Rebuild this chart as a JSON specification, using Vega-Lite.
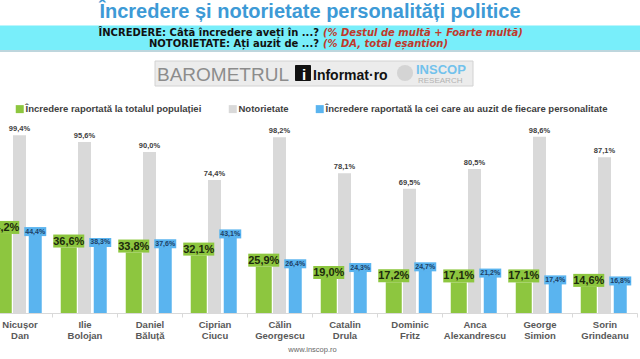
{
  "$schema": "https://vega.github.io/schema/vega-lite/v6.json",
  "width": 640,
  "height": 313,
  "autosize": {"type": "none"},
  "padding": {"left": 0, "right": 0, "top": 0, "bottom": 46},
  "background": "white",
  "config": {"view": {"stroke": null}, "font": "Liberation Sans"},
  "layer": [
    {
      "data": {"values": [{}]},
      "mark": {"type": "rect", "color": "#78eefa"},
      "encoding": {"x": {"value": 0}, "x2": {"value": 640}, "y": {"value": 25.5}, "y2": {"value": 50}}
    },
    {
      "data": {"values": [{}]},
      "mark": {"type": "rule", "color": "#a9c9d2", "strokeWidth": 1.5},
      "encoding": {"x": {"value": 0}, "x2": {"value": 640}, "y": {"value": 51}}
    },
    {
      "data": {"values": [{"t": "Încredere și notorietate personalități politice"}]},
      "mark": {"type": "text", "align": "center", "baseline": "alphabetic", "fontSize": 20, "fontWeight": "bold", "color": "#3d9ad6", "font": "Liberation Sans"},
      "encoding": {"x": {"value": 310}, "y": {"value": 17.5}, "text": {"field": "t"}}
    },
    {
      "data": {"values": [{"t": "ÎNCREDERE: Câtă încredere aveți în ...?"}]},
      "mark": {"type": "text", "align": "right", "baseline": "alphabetic", "fontSize": 10, "fontWeight": "bold", "color": "#111111", "font": "DejaVu Sans"},
      "encoding": {"x": {"value": 319}, "y": {"value": 36}, "text": {"field": "t"}}
    },
    {
      "data": {"values": [{"t": "(% Destul de multă + Foarte multă)"}]},
      "mark": {"type": "text", "align": "left", "baseline": "alphabetic", "fontSize": 10, "fontWeight": "bold", "fontStyle": "italic", "color": "#c0392b", "font": "DejaVu Sans"},
      "encoding": {"x": {"value": 323}, "y": {"value": 36}, "text": {"field": "t"}}
    },
    {
      "data": {"values": [{"t": "NOTORIETATE: Ați auzit de ...?"}]},
      "mark": {"type": "text", "align": "right", "baseline": "alphabetic", "fontSize": 10, "fontWeight": "bold", "color": "#111111", "font": "DejaVu Sans"},
      "encoding": {"x": {"value": 319}, "y": {"value": 47}, "text": {"field": "t"}}
    },
    {
      "data": {"values": [{"t": "(% DA, total eșantion)"}]},
      "mark": {"type": "text", "align": "left", "baseline": "alphabetic", "fontSize": 10, "fontWeight": "bold", "fontStyle": "italic", "color": "#c0392b", "font": "DejaVu Sans"},
      "encoding": {"x": {"value": 323}, "y": {"value": 47}, "text": {"field": "t"}}
    },
    {
      "data": {"values": [{}]},
      "mark": {"type": "rect", "color": "#ececec", "stroke": "#d2d2d2", "strokeWidth": 1},
      "encoding": {"x": {"value": 155}, "x2": {"value": 473}, "y": {"value": 61}, "y2": {"value": 86}}
    },
    {
      "data": {"values": [{"t": "BAROMETRUL"}]},
      "mark": {"type": "text", "align": "left", "baseline": "alphabetic", "fontSize": 19, "fontWeight": "normal", "color": "#8c8c8c", "font": "Liberation Sans"},
      "encoding": {"x": {"value": 157}, "y": {"value": 81}, "text": {"field": "t"}}
    },
    {
      "data": {"values": [{}]},
      "mark": {"type": "rect", "color": "#111111", "cornerRadius": 1},
      "encoding": {"x": {"value": 295}, "x2": {"value": 311}, "y": {"value": 65}, "y2": {"value": 81}}
    },
    {
      "data": {"values": [{"t": "i"}]},
      "mark": {"type": "text", "align": "center", "baseline": "alphabetic", "fontSize": 15, "fontWeight": "bold", "color": "white", "font": "Liberation Sans"},
      "encoding": {"x": {"value": 304}, "y": {"value": 80}, "text": {"field": "t"}}
    },
    {
      "data": {"values": [{"t": "Informat·ro"}]},
      "mark": {"type": "text", "align": "left", "baseline": "alphabetic", "fontSize": 14, "fontWeight": "bold", "color": "#111111", "font": "Liberation Sans"},
      "encoding": {"x": {"value": 313}, "y": {"value": 80}, "text": {"field": "t"}}
    },
    {
      "data": {"values": [{}]},
      "mark": {"type": "point", "shape": "circle", "filled": true, "opacity": 1, "size": 260, "color": "#d4d4d4", "strokeWidth": 0},
      "encoding": {"x": {"value": 405}, "y": {"value": 73}}
    },
    {
      "data": {"values": [{"t": "INSCOP"}]},
      "mark": {"type": "text", "align": "left", "baseline": "alphabetic", "fontSize": 13, "fontWeight": "bold", "color": "#72c2ec", "font": "Liberation Sans"},
      "encoding": {"x": {"value": 416}, "y": {"value": 74}, "text": {"field": "t"}}
    },
    {
      "data": {"values": [{"t": "RESEARCH"}]},
      "mark": {"type": "text", "align": "left", "baseline": "alphabetic", "fontSize": 8, "fontWeight": "normal", "color": "#b3b3b3", "font": "Liberation Sans"},
      "encoding": {"x": {"value": 418}, "y": {"value": 83}, "text": {"field": "t"}}
    },
    {
      "data": {"values": [
        {"name": "Nicușor Dan", "s": "a", "v": 44.2}, {"name": "Nicușor Dan", "s": "b", "v": 99.4}, {"name": "Nicușor Dan", "s": "c", "v": 44.4},
        {"name": "Ilie Bolojan", "s": "a", "v": 36.6}, {"name": "Ilie Bolojan", "s": "b", "v": 95.6}, {"name": "Ilie Bolojan", "s": "c", "v": 38.3},
        {"name": "Daniel Băluță", "s": "a", "v": 33.8}, {"name": "Daniel Băluță", "s": "b", "v": 90.0}, {"name": "Daniel Băluță", "s": "c", "v": 37.6},
        {"name": "Ciprian Ciucu", "s": "a", "v": 32.1}, {"name": "Ciprian Ciucu", "s": "b", "v": 74.4}, {"name": "Ciprian Ciucu", "s": "c", "v": 43.1},
        {"name": "Călin Georgescu", "s": "a", "v": 25.9}, {"name": "Călin Georgescu", "s": "b", "v": 98.2}, {"name": "Călin Georgescu", "s": "c", "v": 26.4},
        {"name": "Catalin Drula", "s": "a", "v": 19.0}, {"name": "Catalin Drula", "s": "b", "v": 78.1}, {"name": "Catalin Drula", "s": "c", "v": 24.3},
        {"name": "Dominic Fritz", "s": "a", "v": 17.2}, {"name": "Dominic Fritz", "s": "b", "v": 69.5}, {"name": "Dominic Fritz", "s": "c", "v": 24.7},
        {"name": "Anca Alexandrescu", "s": "a", "v": 17.1}, {"name": "Anca Alexandrescu", "s": "b", "v": 80.5}, {"name": "Anca Alexandrescu", "s": "c", "v": 21.2},
        {"name": "George Simion", "s": "a", "v": 17.1}, {"name": "George Simion", "s": "b", "v": 98.6}, {"name": "George Simion", "s": "c", "v": 17.4},
        {"name": "Sorin Grindeanu", "s": "a", "v": 14.6}, {"name": "Sorin Grindeanu", "s": "b", "v": 87.1}, {"name": "Sorin Grindeanu", "s": "c", "v": 16.8}
      ]},
      "transform": [{"calculate": "replace(format(datum.v, '.1f'), '.', ',') + '%'", "as": "lbl"}],
      "encoding": {
        "x": {
          "field": "name", "type": "nominal", "title": "www.inscop.ro",
          "scale": {"domain": ["Nicușor Dan", "Ilie Bolojan", "Daniel Băluță", "Ciprian Ciucu", "Călin Georgescu", "Catalin Drula", "Dominic Fritz", "Anca Alexandrescu", "George Simion", "Sorin Grindeanu"], "range": [-13, 637], "paddingInner": 0, "paddingOuter": 0},
          "axis": {"domainColor": "#d9d9d9", "domainWidth": 1, "tickColor": "#d9d9d9", "tickSize": 4, "tickBand": "extent", "labelFontSize": 9.5, "labelFontWeight": "bold", "labelColor": "#595959", "labelFont": "Liberation Sans", "labelPadding": 2, "labelAngle": 0, "labelExpr": "split(datum.label, ' ')", "labelLineHeight": 11, "labelOverlap": false, "labelBound": false, "titleFontSize": 7.5, "titleFontWeight": "normal", "titleColor": "#666666", "titleFont": "Liberation Sans", "titlePadding": 6}
        },
        "xOffset": {"field": "s", "type": "nominal", "scale": {"domain": ["a", "b", "c"], "paddingInner": 0, "paddingOuter": 0.5635}},
        "y": {"field": "v", "type": "quantitative", "scale": {"domain": [0, 175], "nice": false, "zero": true}, "axis": null}
      },
      "layer": [
        {
          "transform": [{"filter": "datum.s == 'a'"}],
          "mark": {"type": "bar", "width": 16},
          "encoding": {
            "color": {"field": "s", "type": "nominal",
              "scale": {"domain": ["a", "b", "c"], "range": ["#8dc63f", "#d9d9d9", "#5ab4ef"]},
              "legend": {"orient": "none", "legendX": 15, "legendY": 104, "direction": "horizontal", "title": null, "symbolType": "square", "symbolSize": 64, "symbolStrokeWidth": 0, "labelFontSize": 9.5, "labelFontWeight": "bold", "labelColor": "#404040", "labelFont": "Liberation Sans", "labelLimit": 0, "columnPadding": 26, "labelOffset": 1,
                "labelExpr": "datum.label == 'a' ? 'Încredere raportată la totalul populației' : datum.label == 'b' ? 'Notorietate' : 'Încredere raportată la cei care au auzit de fiecare personalitate'"}}
          }
        },
        {
          "transform": [{"filter": "datum.s == 'b'"}],
          "mark": {"type": "bar", "width": 13},
          "encoding": {"color": {"field": "s", "type": "nominal"}}
        },
        {
          "transform": [{"filter": "datum.s == 'c'"}],
          "mark": {"type": "bar", "width": 13},
          "encoding": {"color": {"field": "s", "type": "nominal"}}
        },
        {
          "transform": [{"filter": "datum.s == 'b'"}],
          "mark": {"type": "text", "baseline": "bottom", "align": "center", "fontSize": 7.5, "fontWeight": "bold", "color": "#404040", "yOffset": -2, "font": "Liberation Sans"},
          "encoding": {"text": {"field": "lbl"}}
        },
        {
          "transform": [{"filter": "datum.s == 'a'"}],
          "mark": {"type": "point", "shape": "M-1,-0.42H1V0.42H-1Z", "filled": true, "opacity": 1, "size": 961, "color": "#8dc63f", "strokeWidth": 0, "yOffset": -6.5}
        },
        {
          "transform": [{"filter": "datum.s == 'a'"}],
          "mark": {"type": "text", "baseline": "middle", "align": "center", "fontSize": 11, "fontWeight": "bold", "color": "#1c2a0c", "yOffset": -6, "font": "Liberation Sans"},
          "encoding": {"text": {"field": "lbl"}}
        },
        {
          "transform": [{"filter": "datum.s == 'c'"}],
          "mark": {"type": "point", "shape": "M-1,-0.41H1V0.41H-1Z", "filled": true, "opacity": 1, "size": 484, "color": "#5ab4ef", "strokeWidth": 0, "yOffset": -2}
        },
        {
          "transform": [{"filter": "datum.s == 'c'"}],
          "mark": {"type": "text", "baseline": "middle", "align": "center", "fontSize": 7, "fontWeight": "bold", "color": "#1d3f66", "yOffset": -2, "font": "Liberation Sans"},
          "encoding": {"text": {"field": "lbl"}}
        }
      ]
    }
  ]
}
